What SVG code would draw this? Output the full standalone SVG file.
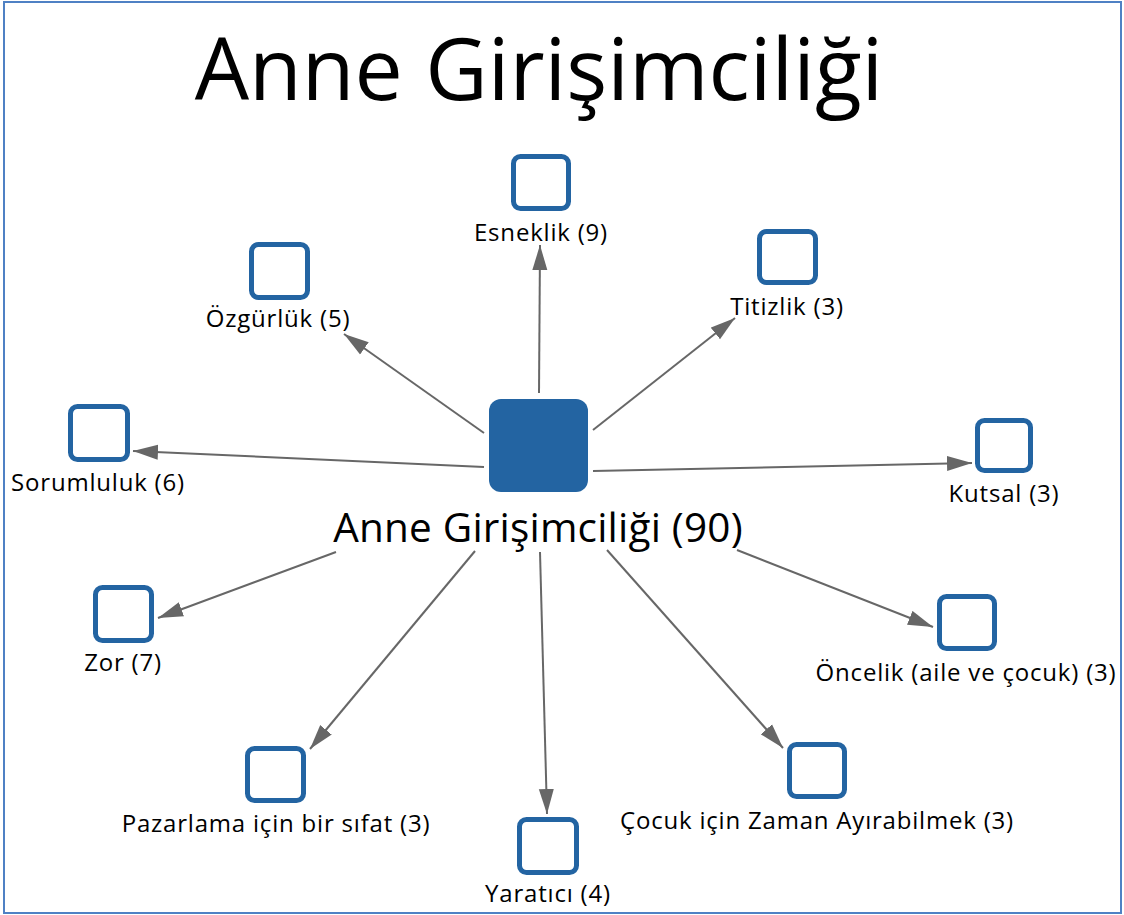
<svg xmlns="http://www.w3.org/2000/svg" width="1124" height="915" viewBox="0 0 1124 915">
  <style>
    .frame { fill: #ffffff; stroke: #4f81c4; stroke-width: 2; }
    .title { font-family: "Open Sans", "Noto Sans", sans-serif; font-size: 86px; fill: #000; text-anchor: middle; }
    .hub { fill: #2364a2; }
    .hub-label { font-family: "Open Sans", "Noto Sans", sans-serif; font-size: 40.5px; letter-spacing: 0.2px; fill: #000; text-anchor: middle; }
    .leaf { fill: #ffffff; stroke: #2364a2; stroke-width: 5; }
    .label { font-family: "Open Sans", "Noto Sans", sans-serif; font-size: 24px; letter-spacing: 0.8px; fill: #000; text-anchor: middle; }
    .edge { stroke: #676767; stroke-width: 2; fill: none; marker-end: url(#arrow); }
  </style>
  <defs>
    <marker id="arrow" markerUnits="userSpaceOnUse" markerWidth="26" markerHeight="16" refX="25" refY="8" orient="auto">
      <path d="M0,0.5 L25,8 L0,15.5 Z" fill="#676767"/>
    </marker>
  </defs>

  <!-- outer frame -->
  <rect class="frame" x="4" y="2" width="1117" height="911"/>

  <text class="title" x="539" y="100">Anne Girişimciliği</text>

  <!-- connectors -->
  <g id="edges">
    <line class="edge" x1="539" y1="393" x2="540" y2="245"/>
    <line class="edge" x1="593" y1="430" x2="735" y2="318"/>
    <line class="edge" x1="484" y1="433" x2="344" y2="334"/>
    <line class="edge" x1="484" y1="467" x2="133" y2="451"/>
    <line class="edge" x1="593" y1="471" x2="972" y2="463"/>
    <line class="edge" x1="336" y1="552" x2="158" y2="618"/>
    <line class="edge" x1="737" y1="550" x2="933" y2="627"/>
    <line class="edge" x1="475" y1="551" x2="310" y2="749"/>
    <line class="edge" x1="607" y1="550" x2="783" y2="748"/>
    <line class="edge" x1="540" y1="552" x2="547" y2="814"/>
  </g>

  <!-- central node -->
  <g id="node-hub">
    <rect class="hub" x="489" y="399" width="99" height="93" rx="12"/>
    <text class="hub-label" x="538" y="542">Anne Girişimciliği (90)</text>
  </g>

  <g id="node-esneklik">
    <rect class="leaf" x="513.5" y="156.5" width="55" height="52" rx="7"/>
    <text class="label" x="541" y="241">Esneklik (9)</text>
  </g>

  <g id="node-titizlik">
    <rect class="leaf" x="759.5" y="231.5" width="56" height="51" rx="7"/>
    <text class="label" x="787" y="315">Titizlik (3)</text>
  </g>

  <g id="node-ozgurluk">
    <rect class="leaf" x="251.5" y="244.5" width="56" height="53" rx="7"/>
    <text class="label" x="278" y="327">Özgürlük (5)</text>
  </g>

  <g id="node-sorumluluk">
    <rect class="leaf" x="70.5" y="406.5" width="57" height="53" rx="7"/>
    <text class="label" x="98" y="491">Sorumluluk (6)</text>
  </g>

  <g id="node-kutsal">
    <rect class="leaf" x="977.5" y="420.5" width="53" height="50" rx="7"/>
    <text class="label" x="1004" y="502">Kutsal (3)</text>
  </g>

  <g id="node-zor">
    <rect class="leaf" x="95.5" y="587.5" width="56" height="53" rx="7"/>
    <text class="label" x="123" y="671">Zor (7)</text>
  </g>

  <g id="node-oncelik">
    <rect class="leaf" x="939.5" y="596.5" width="55" height="52" rx="7"/>
    <text class="label" x="966" y="681">Öncelik (aile ve çocuk) (3)</text>
  </g>

  <g id="node-pazarlama">
    <rect class="leaf" x="247.5" y="748.5" width="56" height="52" rx="7"/>
    <text class="label" x="276" y="832">Pazarlama için bir sıfat (3)</text>
  </g>

  <g id="node-cocuk">
    <rect class="leaf" x="789.5" y="744.5" width="55" height="52" rx="7"/>
    <text class="label" x="817" y="829">Çocuk için Zaman Ayırabilmek (3)</text>
  </g>

  <g id="node-yaratici">
    <rect class="leaf" x="519.5" y="819.5" width="57" height="53" rx="7"/>
    <text class="label" x="548" y="902">Yaratıcı (4)</text>
  </g>
</svg>
